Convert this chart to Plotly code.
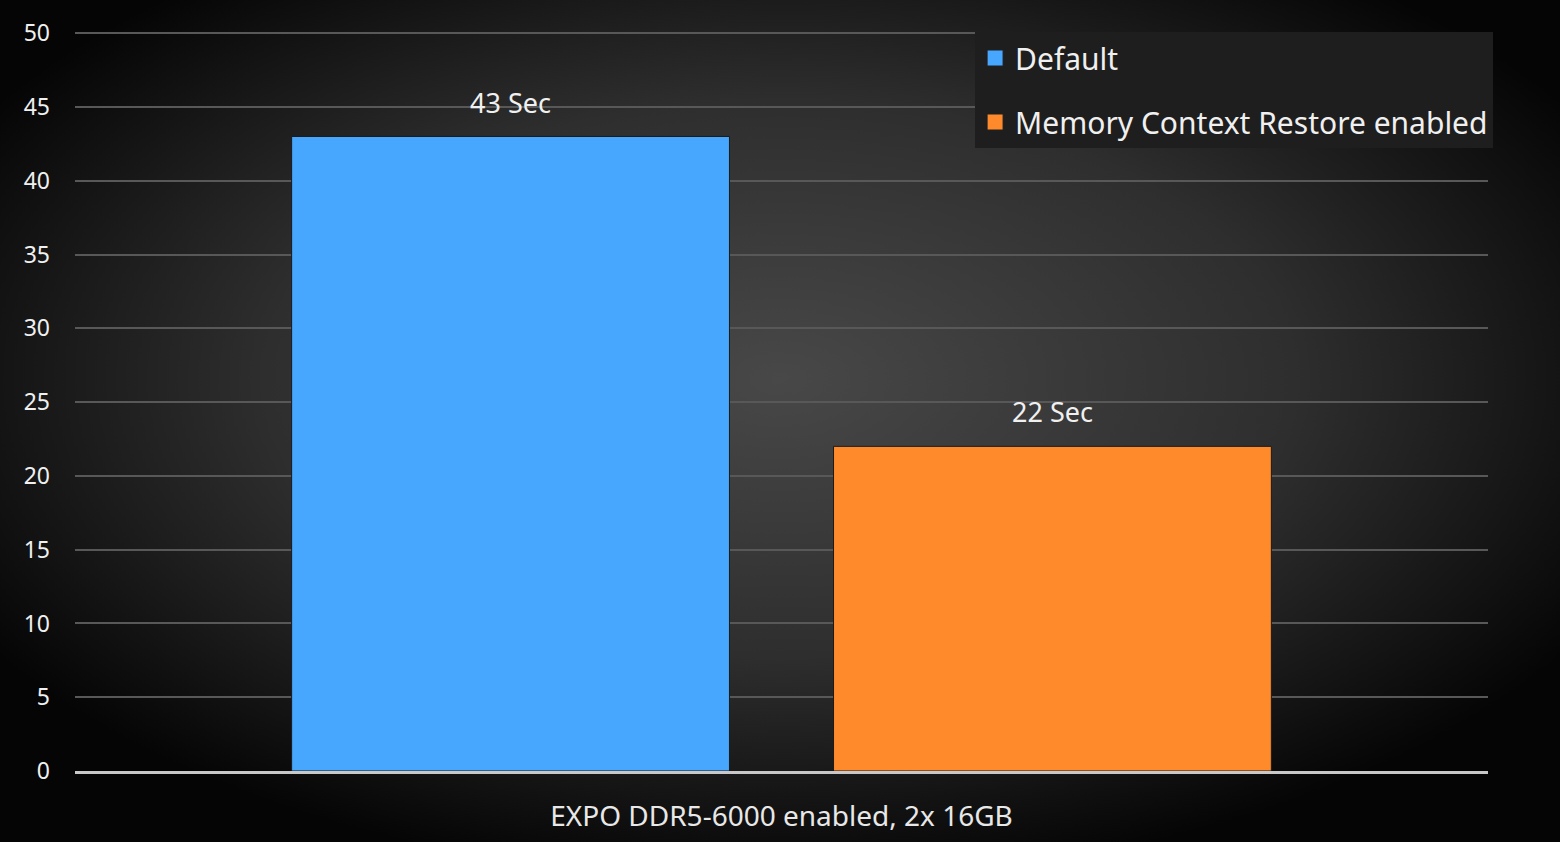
import base64
import plotly.graph_objects as go

category = ["EXPO DDR5-6000 enabled, 2x 16GB"]
series_names = ["Default", "Memory Context Restore enabled"]
default_sec = [43]
mcr_sec = [22]
series_colors = ["#47a6fd", "#ff8a2c"]

W, H = 1560, 842
ml, mr, mt, mb = 75, 72, 32, 71
pw, ph = W - ml - mr, H - mt - mb

# radial dark background, drawn as an svg behind the plot
bg_svg = f"""<svg xmlns='http://www.w3.org/2000/svg' width='{W}' height='{H}'>
<defs><radialGradient id='g' cx='50%' cy='45%' r='60%'>
<stop offset='0%' stop-color='#484848'/><stop offset='55%' stop-color='#2e2e2e'/>
<stop offset='100%' stop-color='#050505'/></radialGradient></defs>
<rect width='100%' height='100%' fill='url(#g)'/></svg>"""
bg_src = "data:image/svg+xml;base64," + base64.b64encode(bg_svg.encode()).decode()

fig = go.Figure()
for name, vals, col in zip(series_names, [default_sec, mcr_sec], series_colors):
    fig.add_trace(go.Bar(
        x=category, y=vals, name=name, showlegend=False,
        marker=dict(color=col, line=dict(color="#1a1a1a", width=1)),
        # small base font so the blank second line only lifts the label a bit
        text=[f"<span style='font-size:27px'>{v} Sec</span><br>&nbsp;" for v in vals],
        textposition="outside",
        textfont=dict(size=13, color="#f0f0f0"), cliponaxis=False,
    ))
# legend entries with bigger square swatches
for name, col in zip(series_names, series_colors):
    fig.add_trace(go.Scatter(
        x=[None], y=[None], mode="markers", name=name, legendgroup=name,
        marker=dict(symbol="square", size=17, color=col,
                    line=dict(color="#202020", width=1)),
    ))

fig.update_layout(
    width=W, height=H,
    margin=dict(l=ml, r=mr, t=mt, b=mb),
    paper_bgcolor="#1c1c1c", plot_bgcolor="rgba(0,0,0,0)",
    font=dict(family="Noto Sans, Open Sans, sans-serif", color="#f0f0f0"),
    barmode="group", bargap=0.233, bargroupgap=0.192,
    images=[dict(source=bg_src, xref="paper", yref="paper",
                 x=-ml / pw, y=1 + mt / ph, sizex=W / pw, sizey=H / ph,
                 xanchor="left", yanchor="top", sizing="stretch", layer="below")],
    legend=dict(x=0.637, y=1.0, xanchor="left", yanchor="top",
                bgcolor="#1e1e1e", font=dict(size=30, color="#f0f0f0"),
                itemsizing="trace", traceorder="grouped", tracegroupgap=22,
                itemwidth=30),
    showlegend=True,
)
fig.update_yaxes(range=[0, 50.08], dtick=5, gridcolor="#585858", gridwidth=2,
                 zeroline=False, showline=False, automargin=False,
                 tickfont=dict(size=23, color="#f0f0f0"), ticklabelstandoff=24)
fig.update_xaxes(showline=True, linecolor="#c8c8c8", linewidth=3,
                 tickfont=dict(size=28, color="#e8e8e8"), ticks="",
                 ticklabelstandoff=18, automargin=False)

fig.write_html("out.html", config={"displayModeBar": False},
               post_script="document.body.style.margin='0';document.body.style.overflow='hidden';")
